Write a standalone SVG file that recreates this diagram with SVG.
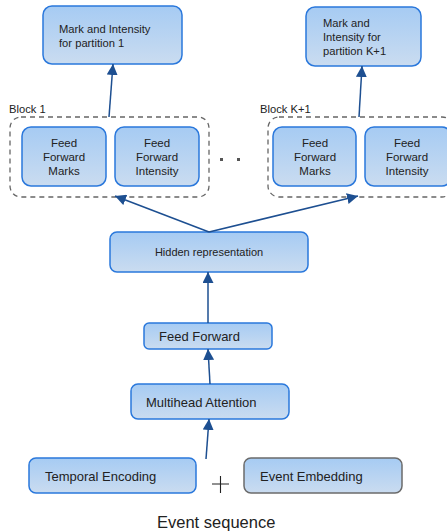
<svg xmlns="http://www.w3.org/2000/svg" width="447" height="531" viewBox="0 0 447 531">
<defs>
<linearGradient id="g" x1="0" y1="0" x2="0" y2="1">
<stop offset="0" stop-color="#a6cbf3"/>
<stop offset="1" stop-color="#cadcf0"/>
</linearGradient>
<marker id="ah" viewBox="0 0 10 10" refX="10" refY="5" markerWidth="11" markerHeight="11" markerUnits="userSpaceOnUse" orient="auto">
<path d="M0,0 L10,5 L0,10 Z" fill="#1d4f91"/>
</marker>
</defs>
<style>
.n{fill:url(#g);stroke:#2a78dc;stroke-width:1.5}
.ng{fill:url(#g);stroke:#6b6b6b;stroke-width:1.5}
.d{fill:none;stroke:#666;stroke-width:1.3;stroke-dasharray:5,4}
.t{font-family:"Liberation Sans",Arial,sans-serif;fill:#222}
.c{stroke:#1d4f91;stroke-width:1.5;fill:none;marker-end:url(#ah)}
</style>
<rect width="447" height="531" fill="#fff"/>
<g id="out1"><rect class="n" x="43" y="6" width="139" height="58" rx="9"/>
<text class="t" font-size="11.2"><tspan x="59" y="33">Mark and Intensity</tspan><tspan x="59" y="47">for partition 1</tspan></text></g>
<g id="outK"><rect class="n" x="306" y="7" width="115" height="59" rx="9"/>
<text class="t" font-size="11.2"><tspan x="323" y="27">Mark and</tspan><tspan x="323" y="41">Intensity for</tspan><tspan x="323" y="55">partition K+1</tspan></text></g>
<g id="block1"><rect class="d" x="10" y="117" width="199" height="80" rx="11"/>
<text class="t" font-size="11.2" x="9" y="113">Block 1</text>
<rect class="n" x="22" y="127" width="84" height="59" rx="9"/>
<text class="t" font-size="11.5" text-anchor="middle"><tspan x="64" y="147">Feed</tspan><tspan x="64" y="161">Forward</tspan><tspan x="64" y="175">Marks</tspan></text>
<rect class="n" x="115" y="127" width="84" height="59" rx="9"/>
<text class="t" font-size="11.5" text-anchor="middle"><tspan x="157" y="147">Feed</tspan><tspan x="157" y="161">Forward</tspan><tspan x="157" y="175">Intensity</tspan></text></g>
<g id="dots"><rect x="220" y="158" width="3" height="3" fill="#555"/><rect x="237" y="158" width="3" height="3" fill="#555"/></g>
<g id="blockK"><rect class="d" x="268" y="117" width="185" height="80" rx="11"/>
<text class="t" font-size="11.2" x="260" y="113">Block K+1</text>
<rect class="n" x="273" y="127" width="83" height="59" rx="9"/>
<text class="t" font-size="11.5" text-anchor="middle"><tspan x="315" y="147">Feed</tspan><tspan x="315" y="161">Forward</tspan><tspan x="315" y="175">Marks</tspan></text>
<rect class="n" x="365" y="127" width="86" height="59" rx="9"/>
<text class="t" font-size="11.5" text-anchor="middle"><tspan x="407" y="147">Feed</tspan><tspan x="407" y="161">Forward</tspan><tspan x="407" y="175">Intensity</tspan></text></g>
<g id="hidden"><rect class="n" x="110" y="232" width="198" height="40" rx="7"/>
<text class="t" font-size="11" x="209" y="256" text-anchor="middle">Hidden representation</text></g>
<g id="ff"><rect class="n" x="144" y="323" width="128" height="26" rx="5"/>
<text class="t" font-size="13" x="159" y="341">Feed Forward</text></g>
<g id="mha"><rect class="n" x="131" y="384" width="158" height="35" rx="7"/>
<text class="t" font-size="13" x="146" y="407">Multihead Attention</text></g>
<g id="temporal"><rect class="n" x="29" y="458" width="167" height="35" rx="7"/>
<text class="t" font-size="13" x="45" y="481">Temporal Encoding</text></g>
<g id="embed"><rect class="ng" x="244" y="458" width="158" height="35" rx="7"/>
<text class="t" font-size="13" x="260" y="481">Event Embedding</text></g>
<g id="plus"><path d="M212,484 H229 M220.5,476 V493" stroke="#222" stroke-width="1.1"/></g>
<text class="t" font-size="16.5" x="157" y="528">Event sequence</text>
<g id="connectors">
<path class="c" d="M109,117 L113,64"/>
<path class="c" d="M359,117 L362,66"/>
<path class="c" d="M209,232 L115,196"/>
<path class="c" d="M209,232 L358,196"/>
<path class="c" d="M208,323 L208,272"/>
<path class="c" d="M210,384 L208,349"/>
<path class="c" d="M206,459 L209,419"/>
</g>
</svg>
